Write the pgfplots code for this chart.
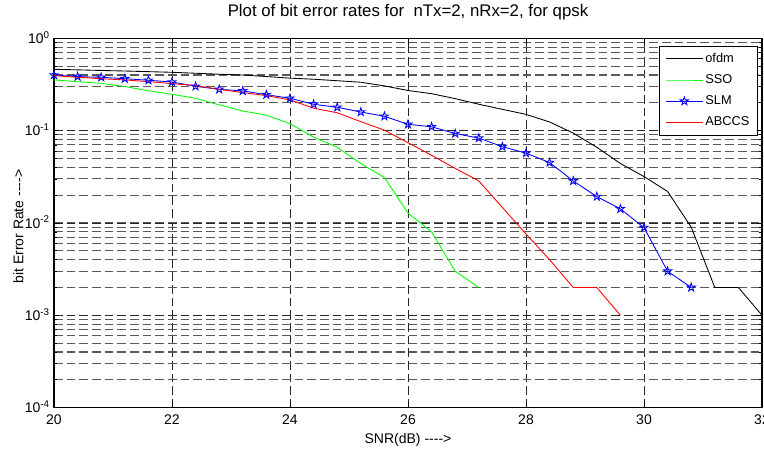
\documentclass[border=0pt]{standalone}
\usepackage{fontspec}
\setmainfont{Liberation Sans}[Ligatures=TeXOff]
\usepackage{pgfplots}
\pgfplotsset{compat=1.18}

% MATLAB style pentagram, unfilled
\pgfdeclareplotmark{pentagram}{%
  \pgfpathmoveto{\pgfpointpolar{90}{\pgfplotmarksize}}%
  \pgfpathlineto{\pgfpointpolar{126}{0.382\pgfplotmarksize}}%
  \pgfpathlineto{\pgfpointpolar{162}{\pgfplotmarksize}}%
  \pgfpathlineto{\pgfpointpolar{198}{0.382\pgfplotmarksize}}%
  \pgfpathlineto{\pgfpointpolar{234}{\pgfplotmarksize}}%
  \pgfpathlineto{\pgfpointpolar{270}{0.382\pgfplotmarksize}}%
  \pgfpathlineto{\pgfpointpolar{306}{\pgfplotmarksize}}%
  \pgfpathlineto{\pgfpointpolar{342}{0.382\pgfplotmarksize}}%
  \pgfpathlineto{\pgfpointpolar{18}{\pgfplotmarksize}}%
  \pgfpathlineto{\pgfpointpolar{54}{0.382\pgfplotmarksize}}%
  \pgfpathclose
  \pgfusepathqstroke
}

\begin{document}
\begin{tikzpicture}
\begin{axis}[
  scale only axis, width=531pt, height=277pt,
  ymode=log,
  xmin=20, xmax=32, ymin=1e-4, ymax=1,
  xtick={20,22,...,32},
  ytick={1e-4,1e-3,1e-2,1e-1,1},
  yticklabels={10\textsuperscript{-4},10\textsuperscript{-3},10\textsuperscript{-2},10\textsuperscript{-1},10\textsuperscript{0}},
  /pgf/number format/assume math mode=true,
  grid=both,
  major grid style={black!85, line width=0.65pt, dash pattern=on 6.5pt off 3pt},
  minor grid style={black!65, line width=0.8pt, dash pattern=on 6.5pt off 3pt},
  tick align=inside,
  major tick length=4pt, minor tick length=2.5pt,
  every tick/.style={black, line width=0.5pt},
  axis line style={line width=0.8pt},
  tick label style={font=\fontsize{10.5}{12}\selectfont},
  xticklabel style={anchor=base, yshift=-12.5pt},
  yticklabel style={anchor=base east, inner sep=0pt, xshift=-3pt, yshift=-3.8pt},
  title={Plot of bit error rates for \ nTx=2, nRx=2, for qpsk},
  title style={at={(axis description cs:0.5,1)}, anchor=base, yshift=10pt, font=\fontsize{12.6}{14}\selectfont},
  xlabel={SNR(dB) ---->},
  xlabel style={at={(axis description cs:0.5,0)}, anchor=base, yshift=-27.2pt, font=\fontsize{10.5}{12}\selectfont},
  ylabel={bit Error Rate ---->},
  ylabel style={at={(axis description cs:-0.0433,0.49)}, anchor=base, font=\fontsize{10.5}{12}\selectfont},
  legend style={at={(axis description cs:1,1)}, anchor=north east, xshift=-3pt, yshift=-5.5pt,
    draw=black, line width=0.8pt, fill=white, font=\fontsize{9.6}{11}\selectfont,
    inner xsep=4.5pt, inner ysep=3.5pt, row sep=3.9pt,
    nodes={inner sep=1.5pt, text height=7pt, text depth=2pt}},
  legend cell align=left,
  legend image code/.code={\draw[mark repeat=2,mark phase=2,#1] plot coordinates {(0cm,0cm) (0.49cm,0cm) (0.98cm,0cm)};},
]
\addplot[black, line width=0.65pt] coordinates {
(20.0,0.461)(20.4,0.455)(20.8,0.448)(21.2,0.442)(21.6,0.435)(22.0,0.428)
(22.4,0.418)(22.8,0.408)(23.2,0.400)(23.6,0.385)(24.0,0.370)(24.4,0.360)
(24.8,0.347)(25.2,0.334)(25.6,0.305)(26.0,0.272)(26.4,0.251)(26.8,0.222)
(27.2,0.193)(27.6,0.170)(28.0,0.150)(28.4,0.124)(28.8,0.094)(29.2,0.066)
(29.6,0.044)(30.0,0.0318)(30.4,0.0219)(30.8,0.0090)(31.2,0.0020)(31.6,0.0020)
(32.0,0.0010)
};
\addlegendentry{ofdm}
\addplot[green, line width=0.65pt] coordinates {
(20.0,0.354)(20.4,0.339)(20.8,0.325)(21.2,0.300)(21.6,0.270)(22.0,0.247)
(22.4,0.224)(22.8,0.190)(23.2,0.163)(23.6,0.147)(24.0,0.119)(24.4,0.085)
(24.8,0.066)(25.2,0.044)(25.6,0.031)(26.0,0.0128)(26.4,0.0080)(26.8,0.0030)
(27.2,0.0020)
};
\addlegendentry{SSO}
\addplot[blue, line width=0.65pt, mark=pentagram, mark size=3.2pt, mark options={solid, line width=0.65pt}] coordinates {
(20.0,0.400)(20.4,0.384)(20.8,0.378)(21.2,0.365)(21.6,0.351)(22.0,0.336)
(22.4,0.302)(22.8,0.280)(23.2,0.269)(23.6,0.245)(24.0,0.224)(24.4,0.193)
(24.8,0.179)(25.2,0.159)(25.6,0.143)(26.0,0.117)(26.4,0.110)(26.8,0.093)
(27.2,0.083)(27.6,0.067)(28.0,0.057)(28.4,0.045)(28.8,0.0285)(29.2,0.0193)
(29.6,0.0142)(30.0,0.0089)(30.4,0.0030)(30.8,0.0020)
};
\addlegendentry{SLM}
\addplot[red, line width=0.65pt] coordinates {
(20.0,0.394)(20.4,0.378)(20.8,0.365)(21.2,0.354)(21.6,0.339)(22.0,0.323)
(22.4,0.307)(22.8,0.280)(23.2,0.258)(23.6,0.239)(24.0,0.215)(24.4,0.175)
(24.8,0.156)(25.2,0.125)(25.6,0.101)(26.0,0.074)(26.4,0.054)(26.8,0.039)
(27.2,0.0285)(27.6,0.0147)(28.0,0.0076)(28.4,0.0040)(28.8,0.0020)(29.2,0.0020)
(29.6,0.0010)
};
\addlegendentry{ABCCS}
\end{axis}
\pgfresetboundingbox
\path ([xshift=-40.5pt,yshift=-31.7pt]current axis.south west) rectangle ([xshift=1.5pt,yshift=28.7pt]current axis.north east);
\end{tikzpicture}
\end{document}
